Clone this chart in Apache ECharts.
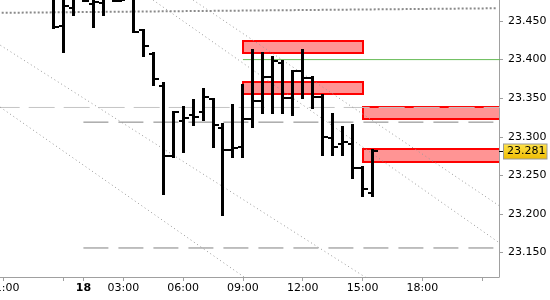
<!DOCTYPE html>
<html><head><meta charset="utf-8">
<script src="https://cdn.jsdelivr.net/npm/echarts@6/dist/echarts.min.js"></script>
<style>html,body{margin:0;padding:0;background:#fff}#c{width:550px;height:300px}</style>
</head><body><div id="c"></div>
<script>
// ---- data ----
const barSlots = [5,6,7,8,9,10,11,12,13,14,15,16,17,18,19,20,21,22,23,24,25,26,27,28,29,30,31,32,33,34,35,36,37];
const barTimes = ['23:30','00:00','00:30','01:00','01:30','02:00','02:30','03:00','03:30','04:00','04:30','05:00','05:30','06:00','06:30','07:00','07:30','08:00','08:30','09:00','09:30','10:00','10:30','11:00','11:30','12:00','12:30','13:00','13:30','14:00','14:30','15:00','15:30'];
const opens  = [23.481,23.443,23.467,23.485,23.472,23.473,23.482,23.476,23.482,23.438,23.407,23.366,23.275,23.320,23.328,23.332,23.349,23.312,23.283,23.287,23.323,23.347,23.377,23.396,23.350,23.385,23.376,23.351,23.299,23.291,23.291,23.259,23.227];
const highs  = [23.490,23.485,23.482,23.493,23.484,23.484,23.487,23.488,23.487,23.439,23.410,23.371,23.333,23.340,23.349,23.363,23.350,23.318,23.342,23.369,23.414,23.410,23.405,23.399,23.386,23.414,23.379,23.356,23.331,23.314,23.317,23.262,23.284];
const lows   = [23.440,23.409,23.457,23.475,23.441,23.457,23.475,23.476,23.435,23.404,23.366,23.224,23.273,23.279,23.314,23.320,23.285,23.197,23.273,23.273,23.311,23.330,23.330,23.330,23.327,23.349,23.336,23.275,23.275,23.275,23.245,23.222,23.222];
const closes = [23.442,23.469,23.480,23.476,23.474,23.479,23.476,23.483,23.436,23.418,23.375,23.275,23.332,23.324,23.326,23.351,23.315,23.283,23.286,23.323,23.346,23.378,23.398,23.350,23.385,23.376,23.351,23.300,23.287,23.293,23.260,23.232,23.281];

const tickSlots  = [0, 6, 8, 12, 18, 24, 30, 36, 42, 48];
const labelSlots = [0, 8, 12, 18, 24, 30, 36, 42];
const labelTexts = ['21:00', '18', '03:00', '06:00', '09:00', '12:00', '15:00', '18:00'];
const yTickValues = [23.15, 23.20, 23.25, 23.30, 23.35, 23.40, 23.45];

// drawn levels / trend lines  [slot, price]
const trendTop = [[-1, 23.4605], [49.4, 23.4665]];
const diag1 = [[18, 23.4859], [50, 23.2081]];
const diag2 = [[14, 23.4861], [50, 23.1601]];
const diag3 = [[-1, 23.4241], [37, 23.1122]];
const diag4 = [[-1, 23.3443], [25, 23.1104]];
const lightLevel = [[-1, 23.338], [51, 23.338]];
const darkLevel1 = [[8, 23.319], [51, 23.319]];
const darkLevel2 = [[8, 23.156], [51, 23.156]];
const greenLevel = [[24, 23.400], [51, 23.400]];

const zoneStart = [24, 24, 36, 36];
const zoneEnd   = [36, 36, 52, 52];
const zoneLow   = [23.408, 23.356, 23.323, 23.267];
const zoneHigh  = [23.424, 23.371, 23.338, 23.284];

// ---- chart ----
const FONT = 'DejaVu Sans';
const lastClose = closes[closes.length - 1];
const barData = barSlots.map((s, i) => [s, opens[i], highs[i], lows[i], closes[i], barTimes[i]]);
const zoneData = zoneStart.map((s, i) => [s, zoneEnd[i], zoneLow[i], zoneHigh[i]]);

function renderBar(params, api) {
  const x = api.value(0);
  const pO = api.coord([x, api.value(1)]);
  const pH = api.coord([x, api.value(2)]);
  const pL = api.coord([x, api.value(3)]);
  const pC = api.coord([x, api.value(4)]);
  const bx = Math.round(pO[0] - 1.5);
  const top = Math.round(pH[1]), bot = Math.round(pL[1]);
  return {type: 'group', children: [
    {type: 'rect', shape: {x: bx, y: top, width: 3, height: Math.max(bot - top, 1)}, style: {fill: '#000'}},
    {type: 'rect', shape: {x: bx - 3, y: Math.round(pO[1] - 1), width: 3, height: 2}, style: {fill: '#000'}},
    {type: 'rect', shape: {x: bx + 3, y: Math.round(pC[1] - 1), width: 4, height: 2}, style: {fill: '#000'}}
  ]};
}
function renderZone(params, api) {
  const p1 = api.coord([api.value(0), api.value(3)]);
  const p2 = api.coord([api.value(1), api.value(2)]);
  const x1 = Math.round(p1[0]), y1 = Math.round(p1[1]);
  const x2 = Math.round(p2[0]), y2 = Math.round(p2[1]);
  return {type: 'rect', shape: {x: x1, y: y1, width: x2 - x1, height: y2 - y1},
    style: {fill: '#ff9494', stroke: '#ff0000', lineWidth: 2}};
}
function lineSeries(data, color, width, dash, offset) {
  return {type: 'line', data: data, showSymbol: false, symbol: 'none', silent: true, clip: true,
    xAxisIndex: 0, yAxisIndex: 0, z: 3,
    lineStyle: {color: color, width: width, type: dash, dashOffset: offset || 0}};
}

const chart = echarts.init(document.getElementById('c'), null, {renderer: 'canvas'});
chart.setOption({
  animation: false,
  backgroundColor: '#ffffff',
  grid: {left: 0, right: 51, top: 0, bottom: 23, containLabel: false, outerBoundsMode: 'none'},
  xAxis: {
    type: 'value', min: -0.366, max: 49.684,
    axisLine: {show: true, onZero: false, lineStyle: {color: '#a0a0a0', width: 1}},
    axisTick: {show: true, customValues: tickSlots, length: 4, lineStyle: {color: '#a0a0a0'}},
    axisLabel: {show: true, customValues: labelSlots, margin: 6, fontFamily: FONT, fontSize: 11, color: '#000',
      formatter: function (v) {
        const k = labelSlots.indexOf(Math.round(v));
        if (k < 0) return '';
        const t = labelTexts[k];
        return t.indexOf(':') < 0 ? '{b|' + t + '}' : t;
      },
      rich: {b: {fontFamily: FONT, fontSize: 11, fontWeight: 'bold', color: '#000'}}},
    splitLine: {show: false}
  },
  yAxis: [{
    type: 'value', position: 'right', min: 23.1184, max: 23.4772,
    axisLine: {show: true, onZero: false, lineStyle: {color: '#a0a0a0', width: 1}},
    axisTick: {show: true, customValues: yTickValues, length: 4, lineStyle: {color: '#a0a0a0'}},
    axisLabel: {show: true, customValues: yTickValues, margin: 9, fontFamily: FONT, fontSize: 11, color: '#000',
      formatter: v => v.toFixed(3)},
    splitLine: {show: false}
  }, {
    type: 'value', position: 'right', min: 23.1184, max: 23.4772,
    axisLine: {show: false, onZero: false},
    axisTick: {show: true, customValues: [lastClose], length: 6, lineStyle: {color: '#000', width: 1}},
    axisLabel: {show: true, customValues: [lastClose], margin: 5, fontFamily: FONT, fontSize: 11, color: '#000',
      formatter: v => v.toFixed(3),
      backgroundColor: new echarts.graphic.LinearGradient(0, 0, 0, 1, [{offset: 0, color: '#ffe44d'}, {offset: 1, color: '#eebb00'}]),
      borderColor: '#9a9a9a', borderWidth: 1, padding: [2, 1, 1, 3]},
    splitLine: {show: false}
  }],
  series: [
    {type: 'custom', name: 'zones', data: zoneData, renderItem: renderZone, clip: true, silent: true, z: 1,
      xAxisIndex: 0, yAxisIndex: 0, encode: {x: [0, 1], y: [2, 3]}},
    lineSeries(lightLevel, '#c4c4c4', 1, [26, 9], 0),
    lineSeries(darkLevel1, '#808080', 1, [25, 10], 0),
    lineSeries(darkLevel2, '#808080', 1, [25, 10], 0),
    lineSeries(greenLevel, '#66bb55', 1, 'solid'),
    lineSeries(trendTop, '#8a8a8a', 2, [2, 2], 0),
    lineSeries(diag1, '#999999', 1, [1, 3], 0),
    lineSeries(diag2, '#999999', 1, [1, 3], 0),
    lineSeries(diag3, '#999999', 1, [1, 3], 0),
    lineSeries(diag4, '#999999', 1, [1, 3], 0),
    {type: 'custom', name: 'bars', data: barData, renderItem: renderBar, clip: true, silent: true, z: 5,
      xAxisIndex: 0, yAxisIndex: 0, encode: {x: 0, y: [1, 2, 3, 4]}}
  ]
});
</script></body></html>
